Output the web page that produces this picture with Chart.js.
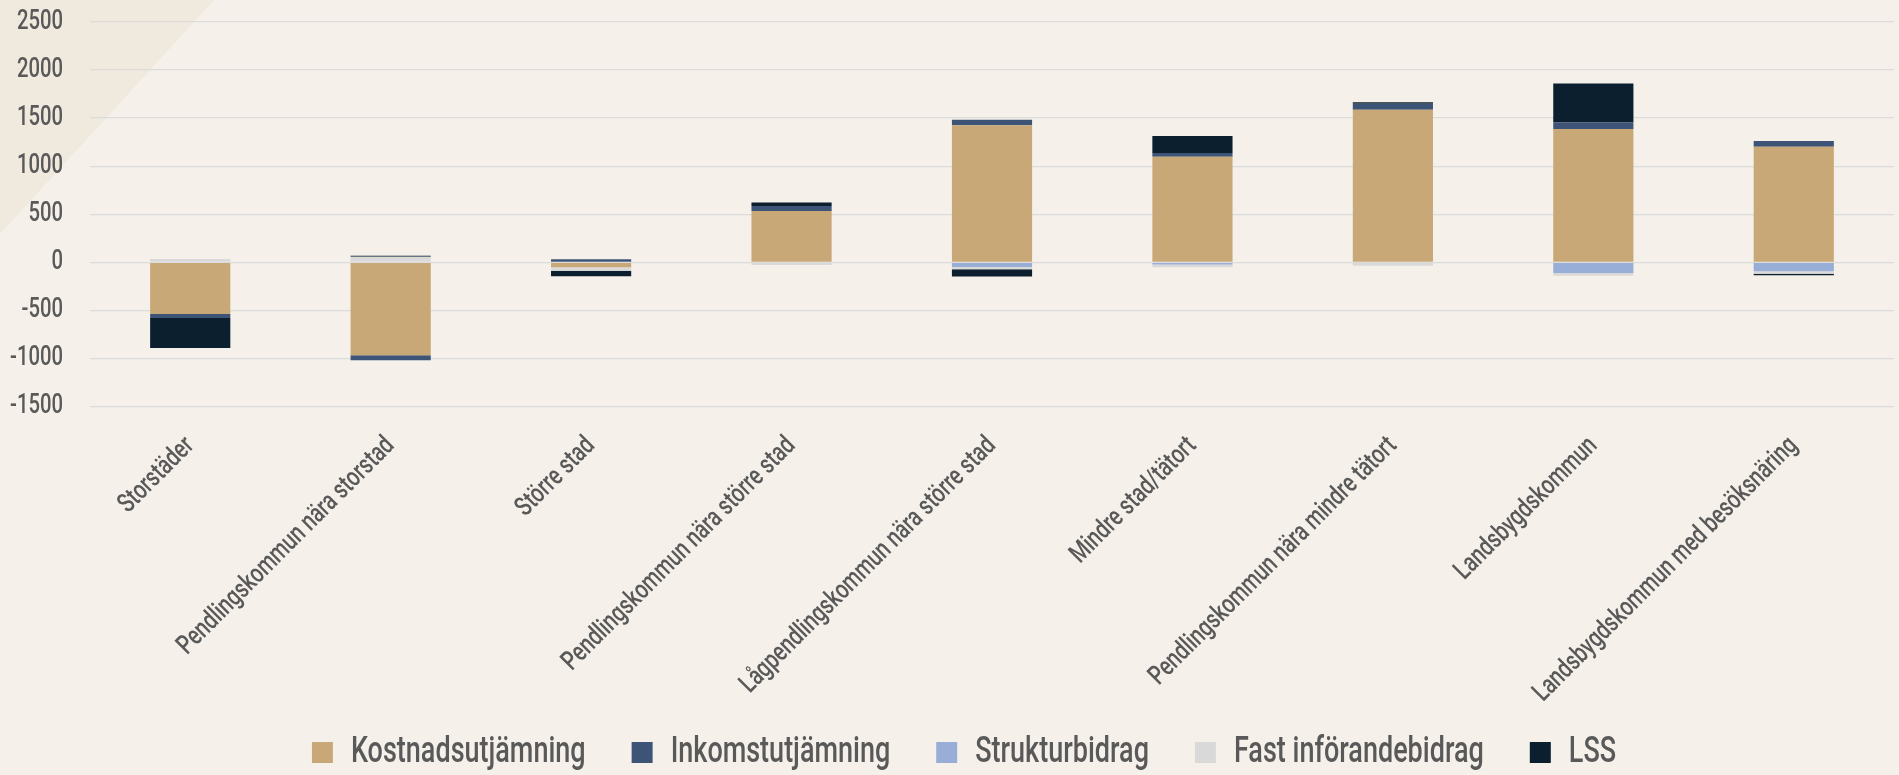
<!DOCTYPE html>
<html>
<head>
<meta charset="utf-8">
<script src="https://cdn.jsdelivr.net/npm/chart.js@4.4.1/dist/chart.umd.min.js"></script>
<style>
  html, body { margin: 0; padding: 0; background: #f5f1ea; }
  #wrap { position: relative; width: 1899px; height: 775px; }
</style>
</head>
<body>
<div id="wrap"><canvas id="c" width="1899" height="775"></canvas></div>
<script>
const categories = [
  "Storstäder",
  "Pendlingskommun nära storstad",
  "Större stad",
  "Pendlingskommun nära större stad",
  "Lågpendlingskommun nära större stad",
  "Mindre stad/tätort",
  "Pendlingskommun nära mindre tätort",
  "Landsbygdskommun",
  "Landsbygdskommun med besöksnäring"
];
const kostnadsutjamning = [-538, -967, -52, 533, 1427, 1098, 1587, 1386, 1202];
const inkomstutjamning  = [-42, -52, 31, 52, 55, 38, 62, 69, 59];
const strukturbidrag    = [0, 0, 0, 0, -49, -22, 0, -111, -94];
const fastInforande     = [35, 58, -35, -28, -22, -30, -35, -28, -24];
const lss               = [-311, 10, -58, 38, -77, 177, 17, 405, -17];
const yTicks = { min: -1500, max: 2500, step: 500 };

const FONT = "Roboto, 'Liberation Sans', sans-serif";
const SQUEEZE = 0.75; // horizontal condensing of all chart text

const canvas = document.getElementById('c');
const ctx2d = canvas.getContext('2d');
const origFill = ctx2d.fillText.bind(ctx2d);
const origMeasure = ctx2d.measureText.bind(ctx2d);
ctx2d.fillText = function (text, x, y, maxWidth) {
  this.save();
  this.translate(x, y);
  this.scale(SQUEEZE, 1);
  if (maxWidth === undefined || maxWidth === null) origFill(text, 0, 0);
  else origFill(text, 0, 0, maxWidth / SQUEEZE);
  this.restore();
};
ctx2d.measureText = function (text) {
  const m = origMeasure(text);
  return {
    width: m.width * SQUEEZE,
    actualBoundingBoxLeft: m.actualBoundingBoxLeft * SQUEEZE,
    actualBoundingBoxRight: m.actualBoundingBoxRight * SQUEEZE,
    actualBoundingBoxAscent: m.actualBoundingBoxAscent,
    actualBoundingBoxDescent: m.actualBoundingBoxDescent,
    fontBoundingBoxAscent: m.fontBoundingBoxAscent,
    fontBoundingBoxDescent: m.fontBoundingBoxDescent
  };
};

const bgPlugin = {
  id: 'bg',
  beforeDraw(chart) {
    const ctx = chart.ctx;
    ctx.save();
    ctx.fillStyle = '#f5f1ea';
    ctx.fillRect(0, 0, chart.width, chart.height);
    ctx.fillStyle = '#f0e9dd';
    ctx.beginPath();
    ctx.moveTo(0, 0);
    ctx.lineTo(214, 0);
    ctx.lineTo(0, 234);
    ctx.closePath();
    ctx.fill();
    ctx.restore();
  }
};

const mk = (label, data, color) => ({
  label, data, backgroundColor: color, borderWidth: 0
});

new Chart(canvas, {
  type: 'bar',
  data: {
    labels: categories,
    datasets: [
      mk('Kostnadsutjämning', kostnadsutjamning, '#c9a877'),
      mk('Inkomstutjämning', inkomstutjamning, '#3e5476'),
      mk('Strukturbidrag', strukturbidrag, '#98aed6'),
      mk('Fast införandebidrag', fastInforande, '#d9d9d9'),
      mk('LSS', lss, '#0b1f2e')
    ]
  },
  options: {
    responsive: false,
    animation: false,
    layout: { padding: { top: 22, right: 5, left: 34, bottom: -5.5 } },
    datasets: { bar: { categoryPercentage: 1.0, barPercentage: 0.4 } },
    scales: {
      x: {
        stacked: true,
        grid: { display: false, drawTicks: false },
        border: { display: false },
        ticks: {
          color: '#595959', font: { family: FONT, size: 27, weight: '500' },
          minRotation: 45, maxRotation: 45, autoSkip: false, padding: 24
        },
        afterFit(scale) {
          scale.height = 282;
          scale.paddingLeft = 0; scale.paddingRight = 0;
          scale._computeLabelArea = () => undefined;
        }
      },
      y: {
        stacked: true,
        min: yTicks.min, max: yTicks.max,
        grid: { color: '#dcdcdc', lineWidth: 1.3, drawTicks: false },
        border: { display: false },
        ticks: {
          stepSize: yTicks.step, color: '#595959',
          font: { family: FONT, size: 27, weight: '500' }, padding: 27,
          callback: (v) => String(v)
        },
        afterFit(scale) {
          scale.width = 56;
          scale.paddingTop = 0; scale.paddingBottom = 0;
          scale._computeLabelArea = () => undefined;
        }
      }
    },
    plugins: {
      legend: {
        position: 'bottom',
        labels: {
          color: '#595959', font: { family: FONT, size: 36, weight: '500' },
          boxWidth: 21, boxHeight: 21, padding: 46
        }
      },
      tooltip: { enabled: false }
    }
  },
  plugins: [bgPlugin]
});
</script>
</body>
</html>
